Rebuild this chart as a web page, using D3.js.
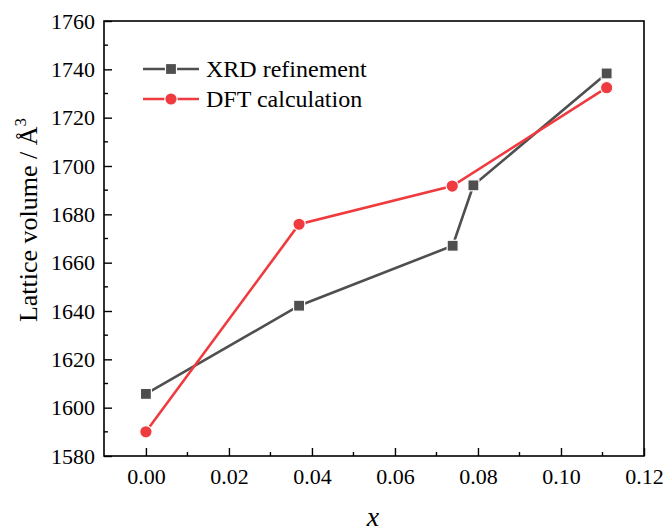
<!DOCTYPE html>
<html>
<head>
<meta charset="utf-8">
<script src="https://cdn.jsdelivr.net/npm/d3@7"></script>
<style>
  body { margin: 0; background: #fff; }
  svg text { font-family: "Liberation Serif", "Times New Roman", serif; fill: #000; }
</style>
</head>
<body>
<svg id="viz"></svg>
<script>
/* Data */

const xrdX = [0.0, 0.0369, 0.0739, 0.0789, 0.111];
const xrdV = [1605.7, 1642.2, 1667.0, 1692.0, 1738.3];
const dftX = [0.0, 0.0369, 0.0738, 0.111];
const dftV = [1590.0, 1675.9, 1691.7, 1732.4];
const xTicks = [0.00, 0.02, 0.04, 0.06, 0.08, 0.10, 0.12];
const yTicks = [1580, 1600, 1620, 1640, 1660, 1680, 1700, 1720, 1740, 1760];

const width = 667, height = 531;
const plotLeft = 104, plotRight = 644, plotTop = 21, plotBottom = 456;
const serif = '"Liberation Serif", "Times New Roman", serif';

const svg = d3.select('#viz')
    .attr('width', width)
    .attr('height', height);

/* Scales */

const x = d3.scaleLinear().domain([-0.0101, 0.12]).range([plotLeft, plotRight]);
const y = d3.scaleLinear().domain([1580, 1760]).range([plotBottom, plotTop]);

const xrdColor = '#4f4f4f';
const dftColor = '#ef3b3f';

/* Frame */

svg.append('rect')
    .attr('x', plotLeft).attr('y', plotTop)
    .attr('width', plotRight - plotLeft).attr('height', plotBottom - plotTop)
    .attr('fill', 'none').attr('stroke', '#000').attr('stroke-width', 1.6);

/* Axes (ticks inside) */

const xMinor = d3.range(0.01, 0.12, 0.02);
const yMinor = d3.range(1590, 1760, 20);

const gX = svg.append('g').attr('transform', `translate(0,${plotBottom})`);
gX.call(d3.axisBottom(x).tickValues(xTicks).tickSize(-8).tickPadding(12).tickFormat(d3.format('.2f')));
gX.append('g').selectAll('line').data(xMinor).enter().append('line')
    .attr('x1', d => x(d)).attr('x2', d => x(d)).attr('y1', 0).attr('y2', -4)
    .attr('stroke', '#000').attr('stroke-width', 1.4);

const gY = svg.append('g').attr('transform', `translate(${plotLeft},0)`);
gY.call(d3.axisLeft(y).tickValues(yTicks).tickSize(-8).tickPadding(9).tickFormat(d3.format('d')));
gY.append('g').selectAll('line').data(yMinor).enter().append('line')
    .attr('y1', d => y(d)).attr('y2', d => y(d)).attr('x1', 0).attr('x2', 4)
    .attr('stroke', '#000').attr('stroke-width', 1.4);

[gX, gY].forEach(g => {
  g.attr('font-family', serif).attr('font-size', 22);
  g.select('.domain').remove();
  g.selectAll('.tick line').attr('stroke', '#000').attr('stroke-width', 1.4);
  g.selectAll('.tick text')
      .style('font-family', serif)
      .style('font-size', '22px')
      .attr('fill', '#000');
});

/* Axis titles */

svg.append('text')
    .attr('x', 373).attr('y', 526)
    .attr('text-anchor', 'middle')
    .style('font-size', '28px').style('font-style', 'italic')
    .text('x');

svg.append('text')
    .attr('transform', 'translate(37,220) rotate(-90)')
    .attr('text-anchor', 'middle')
    .style('font-size', '26px')
    .html('Lattice volume / Å<tspan dy="-11" style="font-size:17px">3</tspan>');

/* Lines */

const line = d3.line().x(d => x(d[0])).y(d => y(d[1]));
const xrd = xrdX.map((d, i) => [d, xrdV[i]]);
const dft = dftX.map((d, i) => [d, dftV[i]]);

const gPlot = svg.append('g');

gPlot.append('path').datum(xrd)
    .attr('d', line).attr('fill', 'none')
    .attr('stroke', xrdColor).attr('stroke-width', 2.6);

gPlot.append('path').datum(dft)
    .attr('d', line).attr('fill', 'none')
    .attr('stroke', dftColor).attr('stroke-width', 2.6);

gPlot.selectAll('rect.xrd').data(xrd).enter().append('rect')
    .attr('class', 'xrd')
    .attr('x', d => x(d[0]) - 5.5).attr('y', d => y(d[1]) - 5.5)
    .attr('width', 11).attr('height', 11)
    .attr('fill', xrdColor).attr('stroke', '#fff').attr('stroke-width', 1.2);

gPlot.selectAll('circle.dft').data(dft).enter().append('circle')
    .attr('class', 'dft')
    .attr('cx', d => x(d[0])).attr('cy', d => y(d[1]))
    .attr('r', 6.2)
    .attr('fill', dftColor).attr('stroke', '#fff').attr('stroke-width', 1.2);

/* Legend */

const legend = [
  {name: 'XRD refinement', color: xrdColor, shape: 'square'},
  {name: 'DFT calculation', color: dftColor, shape: 'circle'}
];

const gLegend = svg.append('g').attr('transform', 'translate(143,69)');
const item = gLegend.selectAll('g').data(legend).enter().append('g')
    .attr('transform', (d, i) => `translate(0,${i * 30})`);

item.append('line')
    .attr('x1', 0).attr('x2', 56).attr('y1', 0).attr('y2', 0)
    .attr('stroke', d => d.color).attr('stroke-width', 2.6);

item.filter(d => d.shape === 'square').append('rect')
    .attr('x', 28 - 5.5).attr('y', -5.5).attr('width', 11).attr('height', 11)
    .attr('fill', d => d.color).attr('stroke', '#fff').attr('stroke-width', 1.2);

item.filter(d => d.shape === 'circle').append('circle')
    .attr('cx', 28).attr('cy', 0).attr('r', 6.2)
    .attr('fill', d => d.color).attr('stroke', '#fff').attr('stroke-width', 1.2);

item.append('text')
    .attr('x', 63).attr('y', 0).attr('dy', '0.35em')
    .style('font-size', '24px')
    .text(d => d.name);
</script>
</body>
</html>
